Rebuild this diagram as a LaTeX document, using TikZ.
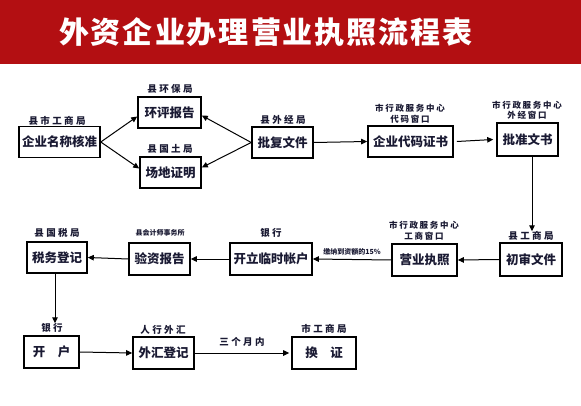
\documentclass[tikz,border=0pt]{standalone}
\usepackage{fontspec}
\newfontfamily\cjk{Noto Sans CJK SC}
\newfontfamily\cjklbl{Noto Sans CJK SC}[LetterSpace=20]
\newfontfamily\cjkwide{Noto Sans CJK SC}[LetterSpace=25]
\usetikzlibrary{arrows.meta}
\definecolor{banner}{HTML}{B30F12}
\definecolor{ink}{HTML}{1A1A33}
\tikzset{
  box/.style={draw=black, line width=1.6pt, fill=white, inner sep=0pt, text=ink,
    font=\cjk\bfseries\fontsize{12.5}{14}\selectfont, minimum height=31pt},
  lbl/.style={inner sep=0pt, text=ink, font=\cjkwide\bfseries\fontsize{9.5}{11}\selectfont},
  clbl/.style={inner sep=0pt, text=ink, font=\cjklbl\bfseries\fontsize{8.5}{10}\selectfont},
  slbl/.style={inner sep=0pt, text=ink, font=\cjk\bfseries\fontsize{7}{8}\selectfont},
  arr/.style={line width=1pt, draw=black, -{Triangle[length=6pt,width=5.5pt]}}
}
\newcommand\tk{\kern2pt}
\begin{document}
\begin{tikzpicture}[x=1pt,y=-1pt]
\useasboundingbox (0,0) rectangle (581,406);
\fill[white] (0,0) rectangle (581,406);
\fill[banner] (0,0) rectangle (581,64);
\node[text=white, font=\cjk\bfseries\fontsize{30}{32}\selectfont, inner sep=0pt] (title) at (266,32)
  {外\tk 资\tk 企\tk 业\tk 办\tk 理\tk 营\tk 业\tk 执\tk 照\tk 流\tk 程\tk 表};

% row 1
\node[box, minimum width=81pt] (n1) at (59.5,142) {企业名称核准};
\node[lbl] (l1) at (57,121) {县市工商局};
\node[box, minimum width=63pt] (n2) at (169.5,112.5) {环评报告};
\node[lbl] (l2) at (170,89) {县环保局};
\node[box, minimum width=61pt] (n3) at (170.5,172.5) {场地证明};
\node[lbl] (l3) at (170,149) {县国土局};
\node[box, minimum width=61pt] (n4) at (282.5,142.5) {批复文件};
\node[lbl] (l4) at (283,120) {县外经局};
\node[box, minimum width=85pt] (n5) at (410.5,141.5) {企业代码证书};
\node[clbl] (l5a) at (410,108) {市行政服务中心};
\node[clbl] (l5b) at (410,119) {代码窗口};
\node[box, minimum width=61pt, minimum height=33pt] (n6) at (527.5,139.5) {批准文书};
\node[clbl] (l6a) at (527,105) {市行政服务中心};
\node[clbl] (l6b) at (527,115.5) {外经窗口};

% row 2
\node[box, minimum width=62pt, minimum height=33pt] (n7) at (531,259.5) {初审文件};
\node[lbl] (l7) at (531,236) {县工商局};
\node[box, minimum width=65pt, minimum height=32pt] (n8) at (424.5,260) {营业执照};
\node[clbl] (l8a) at (424,225) {市行政服务中心};
\node[clbl] (l8b) at (424,236.5) {工商窗口};
\node[box, minimum width=82pt, minimum height=32pt] (n9) at (271,259) {开立临时帐户};
\node[lbl] (l9) at (271,233) {银行};
\node[box, minimum width=61pt, minimum height=32pt] (n10) at (159.5,259) {验资报告};
\node[slbl] (l10) at (160,233) {县会计师事务所};
\node[box, minimum width=60pt] (n11) at (57,257.5) {税务登记};
\node[lbl] (l11) at (57,233) {县国税局};

% row 3
\node[box, minimum width=55pt, minimum height=32pt] (n12) at (51.5,352) {开\quad 户};
\node[lbl] (l12) at (52,328) {银行};
\node[box, minimum width=61pt, minimum height=32pt] (n13) at (163.5,353) {外汇登记};
\node[lbl] (l13) at (163,330) {人行外汇};
\node[box, minimum width=64pt, minimum height=32pt] (n14) at (324,353) {换\quad 证};
\node[lbl] (l14) at (324,329) {市工商局};

% connectors
\draw[arr] (n1.east) -- ([yshift=-4pt]n2.west);
\draw[arr] (n1.east) -- ([yshift=4pt]n3.west);
\draw[arr] (n4.west) -- ([yshift=-3pt]n2.east);
\draw[arr] (n4.west) -- ([yshift=5pt]n3.east);
\draw[arr] (n4.east) -- (n5.west);
\draw[arr] ([xshift=3pt]n5.east) -- ([xshift=-3pt]n6.west);
\draw[arr] ([xshift=4.5pt]n6.south) -- ([xshift=4.5pt]n6.south |- l7.north) coordinate (a7);
\draw[arr] (n7.west) -- (n8.east);
\draw[arr] (n8.west) -- node[slbl, above=4pt] (lm) {缴纳到资额的15\%} (n9.east);
\draw[arr] (n9.west) -- (n10.east);
\draw[arr] (n10.west) -- (n11.east);
\draw[arr] ([xshift=-2pt]n11.south) -- ([xshift=-2pt]n11.south |- l12.north);
\draw[arr] (n12.east) -- (n13.west);
\draw[arr] (n13.east) -- node[lbl, above=6pt] (lt) {三个月内} ([xshift=-2pt]n14.west);
\end{tikzpicture}
\end{document}
